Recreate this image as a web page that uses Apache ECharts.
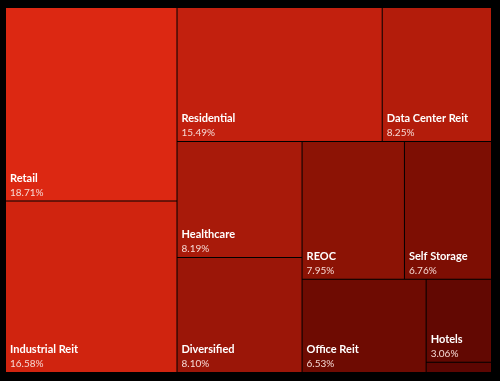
<!DOCTYPE html>
<html>
<head>
<meta charset="utf-8">
<script src="https://cdn.jsdelivr.net/npm/echarts@6/dist/echarts.min.js"></script>
<style>
html,body{margin:0;padding:0;background:#000;}
#c{width:500px;height:381px;}
</style>
</head>
<body>
<div id="c"></div>
<script>
const categories = ["Retail","Industrial Reit","Residential","Data Center Reit","Healthcare","Diversified","REOC","Self Storage","Office Reit","Hotels","Other"];
const shares = [18.71,16.58,15.49,8.25,8.19,8.10,7.95,6.76,6.53,3.06,0.38];
const colors = ["#dc2812","#d0240f","#c2200e","#b31c0b","#a81a0a","#9b1608","#8c1305","#7d0e03","#6e0b02","#620802","#5c0602"];
const hiddenLabel = ["Other"];

function makeData(withColor){
  return categories.map((c,i)=>{
    const d = {name:c, value:shares[i]};
    if (withColor) d.itemStyle = {color:colors[i]};
    else d.itemStyle = {color:'transparent', borderColor:'transparent'};
    if (hiddenLabel.indexOf(c) >= 0) d.label = {show:false};
    return d;
  });
}

const box = {left:6, top:8, width:485, height:364};
const common = Object.assign({
  type:'treemap',
  roam:false, nodeClick:false,
  breadcrumb:{show:false},
  sort:'desc',
  squareRatio:1,
  emphasis:{disabled:true},
  silent:true
}, box);

const chart = echarts.init(document.getElementById('c'));
chart.setOption({
  backgroundColor:'#000',
  animation:false,
  series:[
    Object.assign({}, common, {
      itemStyle:{borderWidth:0, gapWidth:1, borderColor:'#000'},
      label:{
        show:true,
        position:'insideBottomLeft',
        distance:4,
        padding:0,
        offset:[0,1],
        formatter:p=>p.value.toFixed(2)+'%',
        fontFamily:'Lato', fontSize:10, lineHeight:10, color:'#f6d9d4'
      },
      data:makeData(true)
    }),
    Object.assign({}, common, {
      itemStyle:{borderWidth:0, gapWidth:1, borderColor:'transparent', color:'transparent'},
      label:{
        show:true,
        position:'insideBottomLeft',
        distance:4,
        padding:0,
        offset:[0,-13],
        formatter:p=>p.name,
        fontFamily:'Lato', fontWeight:'bold', fontSize:11, lineHeight:11, color:'#ffffff'
      },
      data:makeData(false)
    })
  ]
});
</script>
</body>
</html>
